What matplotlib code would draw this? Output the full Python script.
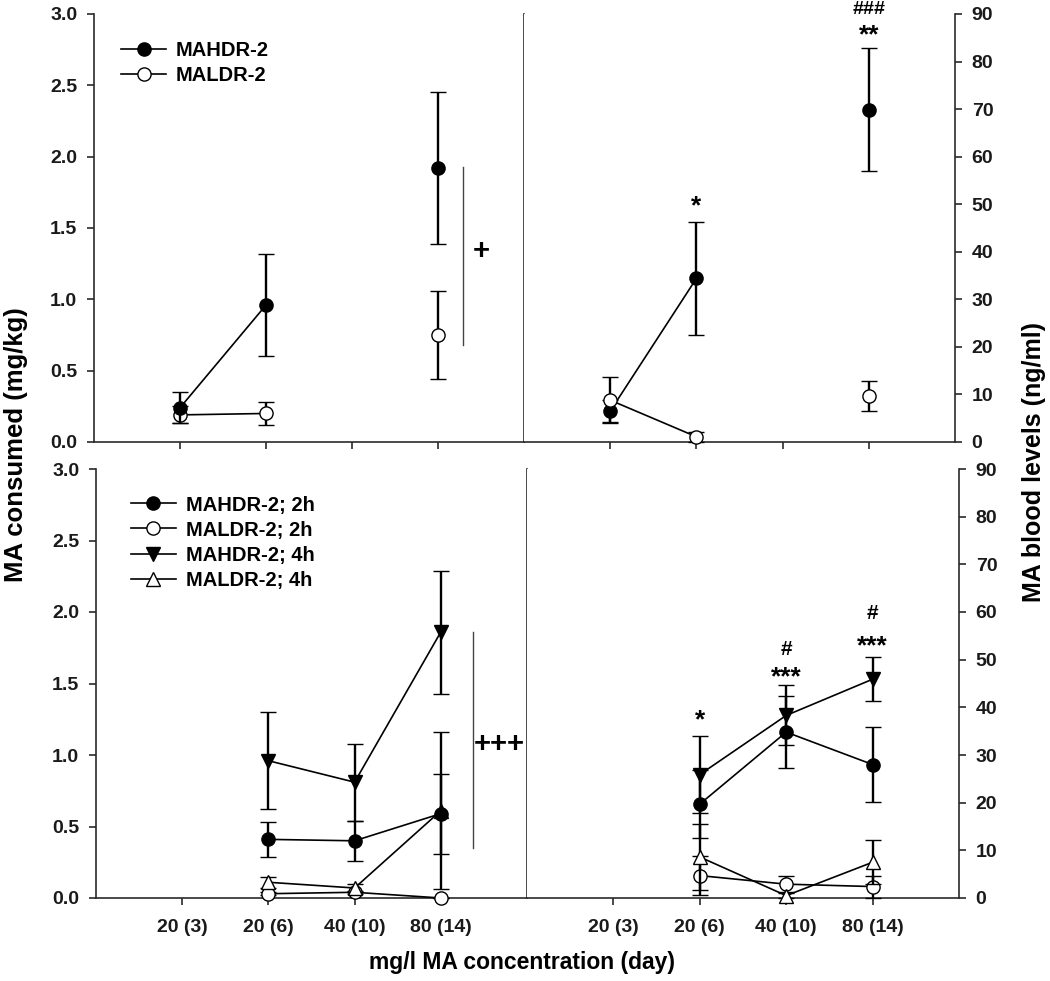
import numpy as np
import matplotlib
matplotlib.use("Agg")
import matplotlib.pyplot as plt
from matplotlib.lines import Line2D

plt.rcParams['font.family'] = ['Liberation Sans', 'DejaVu Sans']
plt.rcParams['font.weight'] = 'bold'

nan = np.nan
x_pos = [1, 2, 3, 4]
x_labels = ['20 (3)', '20 (6)', '40 (10)', '80 (14)']

# Top row: 2h sessions
hdr_cons = [0.24, 0.96, nan, 1.92]
hdr_cons_err = [0.11, 0.36, nan, 0.53]
ldr_cons = [0.19, 0.20, nan, 0.75]
ldr_cons_err = [0.06, 0.08, nan, 0.31]

hdr_blood = [6.5, 34.4, nan, 69.9]
hdr_blood_err = [2.3, 11.8, nan, 12.9]
ldr_blood = [8.8, 1.1, nan, 9.7]
ldr_blood_err = [4.8, 1.0, nan, 3.1]

# Bottom row: 2h and 4h sessions
hdr2_cons = [nan, 0.41, 0.40, 0.59]
hdr2_cons_err = [nan, 0.12, 0.14, 0.28]
ldr2_cons = [nan, 0.03, 0.04, 0.00]
ldr2_cons_err = [nan, 0.01, 0.01, 0.00]
hdr4_cons = [nan, 0.96, 0.81, 1.86]
hdr4_cons_err = [nan, 0.34, 0.27, 0.43]
ldr4_cons = [nan, 0.11, 0.07, 0.61]
ldr4_cons_err = [nan, 0.04, 0.03, 0.55]

hdr2_blood = [nan, 19.7, 34.8, 28.0]
hdr2_blood_err = [nan, 7.2, 7.6, 7.8]
ldr2_blood = [nan, 4.7, 2.9, 2.4]
ldr2_blood_err = [nan, 4.1, 1.7, 2.3]
hdr4_blood = [nan, 25.9, 38.3, 45.9]
hdr4_blood_err = [nan, 8.1, 6.3, 4.6]
ldr4_blood = [nan, 8.6, 0.5, 7.5]
ldr4_blood_err = [nan, 6.9, 0.5, 4.6]

top_right_marks = [('*', 2, 49.5, 19), ('**', 4, 85.5, 19), ('###', 4, 90.9, 14)]
bottom_right_marks = [('*', 2, 37.3, 19), ('***', 3, 46.4, 19), ('#', 3, 52.1, 15),
                      ('***', 4, 52.9, 19), ('#', 4, 59.6, 15)]

W, H = 1050, 981
fig = plt.figure(figsize=(W / 100, H / 100), dpi=100)


def rect(x0, y0, x1, y1):
    return [x0 / W, 1 - y1 / H, (x1 - x0) / W, (y1 - y0) / H]


ax_tl = fig.add_axes(rect(94, 14, 524, 442))
ax_tr = fig.add_axes(rect(524, 14, 955, 442))
ax_bl = fig.add_axes(rect(96, 469, 527, 898))
ax_br = fig.add_axes(rect(527, 469, 959, 898))

TICK_FS = 14
styles = {
    'hdr2': dict(marker='o', mfc='black', mec='black'),
    'ldr2': dict(marker='o', mfc='white', mec='black'),
    'hdr4': dict(marker='v', mfc='black', mec='black'),
    'ldr4': dict(marker='^', mfc='white', mec='black'),
}


def plot_series(ax, y, err, key, z):
    st = styles[key]
    ax.errorbar(x_pos, y, yerr=err, color='black', lw=1.2, elinewidth=1.7,
                capsize=5.5, capthick=1.7, marker=st['marker'], ms=9.5,
                mfc=st['mfc'], mec=st['mec'], mew=1.0, zorder=z,
                clip_on=False)


for ax in (ax_tl, ax_tr, ax_bl, ax_br):
    ax.set_xlim(0, 5)
    ax.set_xticks(x_pos)
    ax.spines['top'].set_visible(False)
    for s in ax.spines.values():
        s.set_linewidth(1.2)
        s.set_color('#2a2a2a')
    ax.tick_params(direction='out', length=5, width=1.2, colors='#2a2a2a',
                   labelcolor='#1a1a1a', labelsize=TICK_FS, pad=7)

for ax in (ax_tl, ax_bl):
    ax.set_ylim(0, 3.0)
    ax.set_yticks([0, 0.5, 1.0, 1.5, 2.0, 2.5, 3.0])
    ax.set_yticklabels(['0.0', '0.5', '1.0', '1.5', '2.0', '2.5', '3.0'])
    ax.spines['right'].set_visible(True)

for ax in (ax_tr, ax_br):
    ax.set_ylim(0, 90)
    ax.set_yticks(range(0, 91, 10))
    ax.yaxis.tick_right()
    ax.spines['left'].set_visible(False)

for ax in (ax_tl, ax_tr):
    ax.set_xticklabels([])
for ax in (ax_bl, ax_br):
    ax.set_xticklabels(x_labels, fontweight='bold')
    ax.tick_params(axis='x', pad=10)

for ax in (ax_tl, ax_tr, ax_bl, ax_br):
    for lab in ax.get_yticklabels() + ax.get_xticklabels():
        lab.set_fontweight('bold')

# Top-left
plot_series(ax_tl, ldr_cons, ldr_cons_err, 'ldr2', 3)
plot_series(ax_tl, hdr_cons, hdr_cons_err, 'hdr2', 4)
ax_tl.plot([4.29, 4.29], [0.68, 1.93], color='#444444', lw=1.0)
ax_tl.text(4.5, 1.34, '+', ha='center', va='center', fontsize=21,
           fontweight='bold')

# Top-right
plot_series(ax_tr, hdr_blood, hdr_blood_err, 'hdr2', 3)
plot_series(ax_tr, ldr_blood, ldr_blood_err, 'ldr2', 4)
for t, x, y, fs in top_right_marks:
    ax_tr.text(x, y, t, ha='center', va='center', fontsize=fs,
               fontweight='bold', clip_on=False)

# Bottom-left
plot_series(ax_bl, ldr2_cons, ldr2_cons_err, 'ldr2', 3)
plot_series(ax_bl, ldr4_cons, ldr4_cons_err, 'ldr4', 4)
plot_series(ax_bl, hdr2_cons, hdr2_cons_err, 'hdr2', 5)
plot_series(ax_bl, hdr4_cons, hdr4_cons_err, 'hdr4', 6)
ax_bl.plot([4.37, 4.37], [0.35, 1.86], color='#444444', lw=1.0)
ax_bl.text(4.68, 1.08, '+++', ha='center', va='center', fontsize=21,
           fontweight='bold')

# Bottom-right
plot_series(ax_br, ldr2_blood, ldr2_blood_err, 'ldr2', 3)
plot_series(ax_br, ldr4_blood, ldr4_blood_err, 'ldr4', 4)
plot_series(ax_br, hdr2_blood, hdr2_blood_err, 'hdr2', 5)
plot_series(ax_br, hdr4_blood, hdr4_blood_err, 'hdr4', 6)
for t, x, y, fs in bottom_right_marks:
    ax_br.text(x, y, t, ha='center', va='center', fontsize=fs,
               fontweight='bold', clip_on=False)


def handle(key):
    st = styles[key]
    return Line2D([], [], color='black', lw=1.2, marker=st['marker'], ms=9.5,
                  mfc=st['mfc'], mec=st['mec'], mew=1.0)


leg_kw = dict(frameon=False, loc='upper left', handlelength=2.2,
              handletextpad=0.5, labelspacing=0.3, numpoints=1,
              borderaxespad=0.0,
              prop={'size': 14.5, 'weight': 'bold'})
ax_tl.legend([handle('hdr2'), handle('ldr2')], ['MAHDR-2', 'MALDR-2'],
             bbox_to_anchor=(0.045, 0.955), **leg_kw)
ax_bl.legend([handle('hdr2'), handle('ldr2'), handle('hdr4'), handle('ldr4')],
             ['MAHDR-2; 2h', 'MALDR-2; 2h', 'MAHDR-2; 4h', 'MALDR-2; 4h'],
             bbox_to_anchor=(0.063, 0.957), **leg_kw)

fig.text(16 / W, 1 - 445 / H, 'MA consumed (mg/kg)', rotation=90,
         ha='center', va='center', fontsize=18.5, fontweight='bold')
fig.text(1034 / W, 1 - 462 / H, 'MA blood levels (ng/ml)', rotation=90,
         ha='center', va='center', fontsize=18, fontweight='bold')
fig.text(522 / W, 1 - 962 / H, 'mg/l MA concentration (day)',
         ha='center', va='center', fontsize=16.5, fontweight='bold')

fig.savefig('out.png', dpi=100)
